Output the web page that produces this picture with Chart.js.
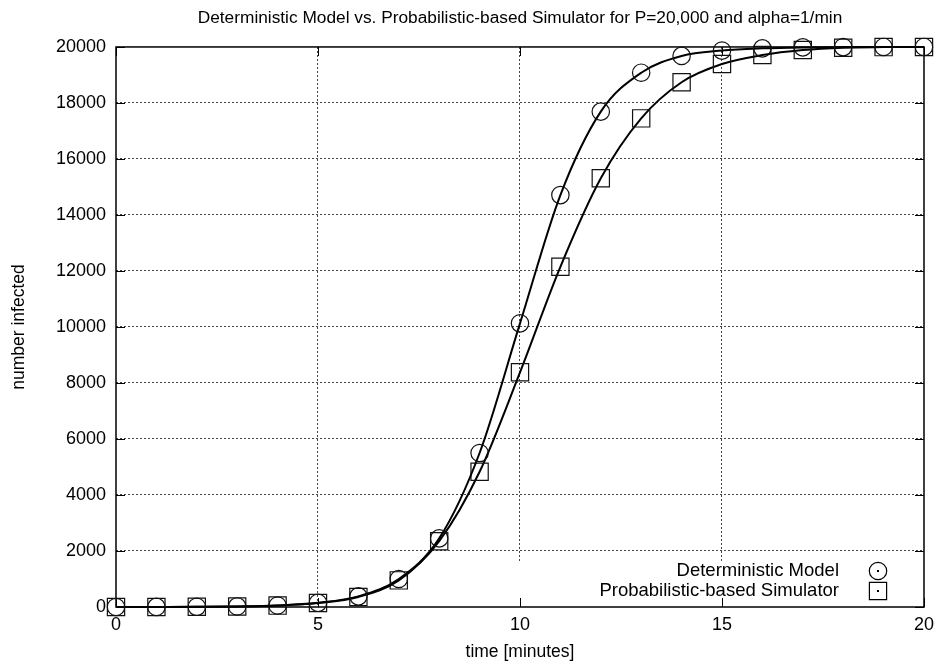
<!DOCTYPE html>
<html>
<head>
<meta charset="utf-8">
<title>Infection spread</title>
<script src="https://cdn.jsdelivr.net/npm/chart.js@4"></script>
<style>
  html, body { margin: 0; padding: 0; background: #fff; }
  #wrap { width: 941px; height: 666px; }
</style>
</head>
<body>
<div id="wrap"><canvas id="infChart"></canvas></div>
<script>
// time steps (minutes) and number infected for each run
const minutes = [0, 1, 2, 3, 4, 5, 6, 7, 8, 9, 10, 11, 12, 13, 14, 15, 16, 17, 18, 19, 20];
const deterministic = [0, 3, 7, 20, 54, 150, 380, 1000, 2450, 5500, 10130, 14710, 17690, 19080, 19680, 19870, 19950, 19985, 19995, 20000, 20000];
const simulated = [0, 2, 6, 18, 50, 140, 360, 950, 2350, 4830, 8380, 12150, 15310, 17450, 18740, 19390, 19710, 19890, 19975, 19995, 20000];

const seriesNames = ['Deterministic Model', 'Probabilistic-based Simulator'];
const xTicks = [0, 5, 10, 15, 20];
const yTicks = [0, 2000, 4000, 6000, 8000, 10000, 12000, 14000, 16000, 18000, 20000];

const FONT = '"Liberation Sans", Arial, Helvetica, sans-serif';
Chart.defaults.font.family = FONT;
Chart.defaults.color = '#000';

const toPoints = ys => minutes.map((t, i) => ({ x: t, y: ys[i] }));

// gnuplot style frame, inward ticks and a key in the lower right corner
const framePlugin = {
    id: 'frame',
    beforeDatasetsDraw(chart) {
        const { ctx, chartArea: a, scales: { x, y } } = chart;
        ctx.save();
        // key background hides the grid behind it
        ctx.fillStyle = '#fff';
        ctx.fillRect(500, 562, a.right - 501, a.bottom - 563);

        ctx.strokeStyle = '#000';
        ctx.lineWidth = 1.5;
        ctx.strokeRect(a.left, a.top, a.right - a.left, a.bottom - a.top);

        ctx.lineWidth = 1;
        const tl = 9;
        ctx.beginPath();
        yTicks.forEach(v => {
            const py = Math.round(y.getPixelForValue(v)) + 0.5;
            ctx.moveTo(a.left, py); ctx.lineTo(a.left + tl, py);
            ctx.moveTo(a.right, py); ctx.lineTo(a.right - tl, py);
        });
        xTicks.forEach(v => {
            const px = Math.round(x.getPixelForValue(v)) + 0.5;
            ctx.moveTo(px, a.bottom); ctx.lineTo(px, a.bottom - tl);
            ctx.moveTo(px, a.top); ctx.lineTo(px, a.top + tl);
        });
        ctx.stroke();
        ctx.restore();
    },
    afterDraw(chart) {
        const { ctx } = chart;
        ctx.save();
        ctx.font = '18.5px ' + FONT;
        ctx.fillStyle = '#000';
        ctx.textAlign = 'right';
        ctx.textBaseline = 'middle';
        const rows = [571, 591];
        const mx = 878;
        ctx.strokeStyle = '#000';
        ctx.lineWidth = 1.2;
        seriesNames.forEach((name, i) => {
            ctx.fillText(name, 839, rows[i]);
            ctx.beginPath();
            if (i === 0) {
                ctx.arc(mx, rows[i], 8.7, 0, Math.PI * 2);
            } else {
                ctx.rect(mx - 8.6, rows[i] - 8.6, 17.2, 17.2);
            }
            ctx.stroke();
            ctx.fillRect(mx - 1, rows[i] - 1, 2, 2);
        });
        ctx.restore();
    }
};

const gridColor = ctx => {
    const v = ctx.tick && ctx.tick.value;
    return (v === 0 || v === 20 || v === 20000) ? 'rgba(0,0,0,0)' : '#444';
};

new Chart(document.getElementById('infChart'), {
    type: 'line',
    data: {
        datasets: [{
            label: seriesNames[0],
            data: toPoints(deterministic),
            borderColor: '#000',
            borderWidth: 2,
            cubicInterpolationMode: 'monotone',
            pointStyle: 'circle',
            pointRadius: 8.7,
            pointBorderWidth: 1.2,
            pointBorderColor: '#111',
            pointBackgroundColor: 'rgba(0,0,0,0)',
            clip: false
        }, {
            label: seriesNames[1],
            data: toPoints(simulated),
            borderColor: '#000',
            borderWidth: 2,
            cubicInterpolationMode: 'monotone',
            pointStyle: 'rect',
            pointRadius: 12.2,
            pointBorderWidth: 1.2,
            pointBorderColor: '#111',
            pointBackgroundColor: 'rgba(0,0,0,0)',
            clip: false
        }]
    },
    options: {
        responsive: true,
        maintainAspectRatio: false,
        animation: false,
        events: [],
        layout: { padding: { left: 0, right: 14, top: 0, bottom: 0 } },
        plugins: {
            legend: { display: false },
            tooltip: { enabled: false },
            title: {
                display: true,
                fullSize: false,
                text: 'Deterministic Model vs. Probabilistic-based Simulator for P=20,000 and alpha=1/min',
                color: '#000',
                font: { size: 17.3, weight: 'normal' },
                padding: { top: 8, bottom: 18.2 }
            }
        },
        scales: {
            x: {
                type: 'linear',
                min: 0,
                max: 20,
                afterBuildTicks: s => { s.ticks = xTicks.map(v => ({ value: v })); },
                afterFit: s => { s.height = 59; },
                ticks: { padding: 7, font: { size: 18 }, maxRotation: 0 },
                grid: { color: gridColor, lineWidth: 1, drawTicks: false },
                border: { display: false, dash: [2, 2] },
                title: { display: true, text: 'time [minutes]', font: { size: 17.5 }, padding: { top: 0, bottom: 3.5 } }
            },
            y: {
                type: 'linear',
                min: 0,
                max: 20000,
                afterBuildTicks: s => { s.ticks = yTicks.map(v => ({ value: v })); },
                afterFit: s => { s.width = 116; },
                ticks: { padding: 10, font: { size: 18 }, callback: v => String(v) },
                grid: { color: gridColor, lineWidth: 1, drawTicks: false },
                border: { display: false, dash: [2, 2] },
                title: { display: true, text: 'number infected', font: { size: 17.5 }, padding: { top: 8.5, bottom: 0 } }
            }
        }
    },
    plugins: [framePlugin]
});
</script>
</body>
</html>
